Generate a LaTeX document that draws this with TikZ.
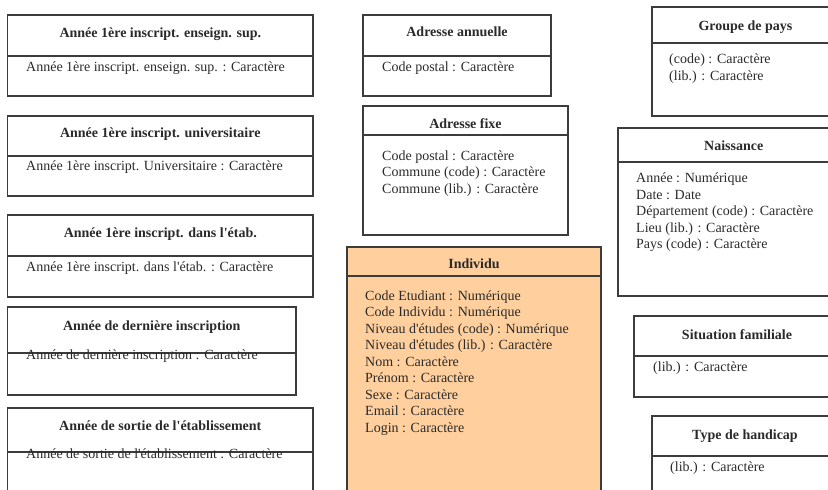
\documentclass[tikz,border=0pt]{standalone}
\usepackage{fontspec}
\setmainfont{Liberation Serif}
\usepackage{tikz}
\usetikzlibrary{positioning}
\definecolor{boxline}{HTML}{3C3C3C}
\definecolor{boxtext}{HTML}{2A2A2A}
\definecolor{indivfill}{HTML}{FFD09E}

\begin{document}
\begin{tikzpicture}[x=1pt,y=-1pt,
    box/.style={draw=boxline,line width=1.6pt},
    head/.style={font=\fontsize{14}{16.5}\selectfont\bfseries,text=boxtext,anchor=base,inner sep=0pt},
    attr/.style={font=\fontsize{14}{16.5}\selectfont,text=boxtext,anchor=base west,inner sep=0pt}]
  \useasboundingbox (0,0) rectangle (828,490);
  \clip (0,0) rectangle (828,490);

  % Left column
  \draw[box] (7.5,15) rectangle (313,96);
  \draw[box] (7.5,56) -- (313,56);
  \node[head] (ens) at (160.3,37.7) {Année 1ère inscript. enseign. sup.};
  \node[attr] (ens-a) at (26,71) {Année 1ère inscript. enseign. sup. : Caractère};

  \draw[box] (7.5,116) rectangle (313,196);
  \draw[box] (7.5,156) -- (313,156);
  \node[head] (univ) at (160.3,137.7) {Année 1ère inscript. universitaire};
  \node[attr] (univ-a) at (26,170.7) {Année 1ère inscript. Universitaire : Caractère};

  \draw[box] (7.5,215) rectangle (313,297);
  \draw[box] (7.5,256) -- (313,256);
  \node[head] (etab) at (160.3,237.7) {Année 1ère inscript. dans l\textquotesingle étab.};
  \node[attr] (etab-a) at (26,271) {Année 1ère inscript. dans l\textquotesingle étab. : Caractère};

  \draw[box] (7.5,307) rectangle (296,395);
  \draw[box] (7.5,353) -- (296,353);
  \node[head] (dern) at (151.8,330) {Année de dernière inscription};
  \node[attr] (dern-a) at (26,359.3) {Année de dernière inscription : Caractère};

  \draw[box] (7.5,408) rectangle (313,500);
  \draw[box] (7.5,452) -- (313,452);
  \node[head] (sort) at (160.3,430) {Année de sortie de l\textquotesingle établissement};
  \node[attr] (sort-a) at (26,458.3) {Année de sortie de l\textquotesingle établissement : Caractère};

  % Middle column
  \draw[box] (363,15) rectangle (551,96);
  \draw[box] (363,56) -- (551,56);
  \node[head] (annu) at (457,36.7) {Adresse annuelle};
  \node[attr] (annu-a) at (382,71) {Code postal : Caractère};

  \draw[box] (363,106) rectangle (568,235);
  \draw[box] (363,135) -- (568,135);
  \node[head] (fixe) at (465.5,128.3) {Adresse fixe};
  \foreach \t [count=\i from 0] in {{Code postal : Caractère},{Commune (code) : Caractère},{Commune (lib.) : Caractère}}
    \node[attr] (fixe-\i) at (382,{160+16.6*\i}) {\t};

  % Individu (central table)
  \fill[indivfill] (347,247) rectangle (601,500);
  \draw[box,line width=2pt] (347,247) rectangle (601,500);
  \draw[box,line width=2pt] (347,276) -- (601,276);
  \node[head] (indiv) at (474,268.3) {Individu};
  \foreach \t [count=\i from 0] in {{Code Etudiant : Numérique},{Code Individu : Numérique},
      {Niveau d\textquotesingle études (code) : Numérique},{Niveau d\textquotesingle études (lib.) : Caractère},
      {Nom : Caractère},{Prénom : Caractère},{Sexe : Caractère},{Email : Caractère},{Login : Caractère}}
    \node[attr] (indiv-\i) at (365,{300+16.5*\i}) {\t};

  % Right column (cut by the page edge)
  \draw[box] (652,7) rectangle (839,116);
  \draw[box] (652,43) -- (839,43);
  \node[head] (pays) at (745.5,30) {Groupe de pays};
  \foreach \t [count=\i from 0] in {{(code) : Caractère},{(lib.) : Caractère}}
    \node[attr] (pays-\i) at (669,{63.3+16.7*\i}) {\t};

  \draw[box] (618,128) rectangle (849.5,296);
  \draw[box] (618,162) -- (849.5,162);
  \node[head] (nais) at (733.7,150) {Naissance};
  \foreach \t [count=\i from 0] in {{Année : Numérique},{Date : Date},{Département (code) : Caractère},
      {Lieu (lib.) : Caractère},{Pays (code) : Caractère}}
    \node[attr] (nais-\i) at (636,{182.7+16.5*\i}) {\t};

  \draw[box] (634,316) rectangle (840,397);
  \draw[box] (634,356) -- (840,356);
  \node[head] (fam) at (737,339.3) {Situation familiale};
  \node[attr] (fam-a) at (653,371) {(lib.) : Caractère};

  \draw[box] (652,416) rectangle (838,500);
  \draw[box] (652,456) -- (838,456);
  \node[head] (hand) at (745,439.3) {Type de handicap};
  \node[attr] (hand-a) at (670,471) {(lib.) : Caractère};
\end{tikzpicture}
\end{document}
